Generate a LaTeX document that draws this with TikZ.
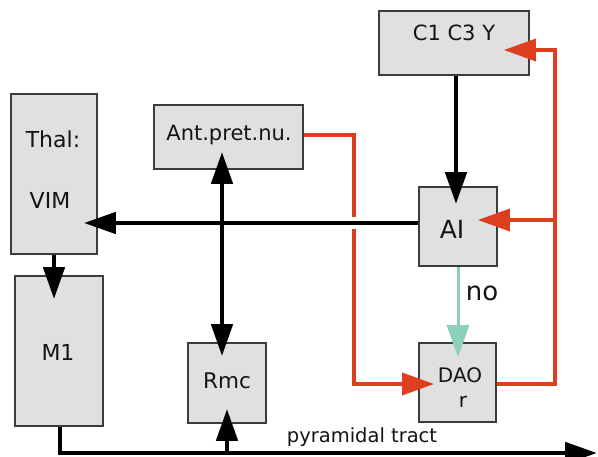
\documentclass[tikz,border=0pt]{standalone}
\usepackage{fontspec}
\setmainfont{DejaVu Sans}
\usetikzlibrary{arrows.meta,calc}
\definecolor{boxfill}{RGB}{224,224,224}
\definecolor{boxline}{RGB}{60,60,60}
\definecolor{redl}{RGB}{220,62,30}
\definecolor{tealx}{RGB}{140,208,188}
\newcommand\fsz[1]{\fontsize{#1}{#1}\selectfont}
\begin{document}
\begin{tikzpicture}[x=1pt,y=-1pt,
  box/.style={draw=boxline, line width=1.8pt, fill=boxfill, inner sep=0pt},
  lbl/.style={anchor=base, text=black!92, inner sep=0pt},
  blk/.style={line width=4.8pt, -{Triangle[length=32pt,width=21pt]}},
  redarrow/.style={draw=redl, line width=3.4pt, -{Triangle[length=32pt,width=22pt]}},
  tealarrow/.style={draw=tealx, line width=3pt, -{Triangle[length=32pt,width=22pt]}}]
\useasboundingbox (0,0) rectangle (598,456);
\fill[white] (0,0) rectangle (598,456);

% boxes
\node[box, minimum width=150pt, minimum height=64pt] (C) at (454,43) {};
\node[box, minimum width=149pt, minimum height=64pt] (Ant) at (228.5,137) {};
\node[box, minimum width=86pt, minimum height=160pt] (Thal) at (54,174) {};
\node[box, minimum width=78pt, minimum height=79pt] (AI) at (458,226.5) {};
\node[box, minimum width=77pt, minimum height=79pt] (DAO) at (457.5,382.5) {};
\node[box, minimum width=88pt, minimum height=150pt] (M1) at (59,351) {};
\node[box, minimum width=78pt, minimum height=80pt] (Rmc) at (227,383) {};

% labels
\node[lbl, font=\fsz{21}] (Ct) at (454,40) {C1 C3 Y};
\node[lbl, font=\fsz{21}] (Antt) at (229,140) {Ant.pret.nu.};
\node[lbl, font=\fsz{22}] (Thalt) at (53,147) {Thal:};
\node[lbl, font=\fsz{22}] (VIMt) at (50,208) {VIM};
\node[lbl, font=\fsz{25}] (AIt) at (452,238) {AI};
\node[lbl, font=\fsz{20}] (DAOt) at (460,382) {DAO};
\node[lbl, font=\fsz{20}] (rt) at (463,407) {r};
\node[lbl, font=\fsz{22}] (M1t) at (58,360) {M1};
\node[lbl, font=\fsz{21.5}] (Rmct) at (227,388) {Rmc};
\node[lbl, font=\fsz{26}] (not) at (482,300) {no};
\node[lbl, font=\fsz{19.5}] (pyt) at (362,442) {pyramidal tract};

% red connectors
\coordinate (rturn) at ($(Ant.east)+(50,-2)$);
\draw[redarrow, shorten >=-16pt] ([yshift=2pt]Ant.east) -- (rturn) |- ([yshift=-1.5pt]DAO.west);
\coordinate (rv) at ($(DAO.east)+(58,1.5)$);
\draw[redarrow, shorten >=-26pt] ([yshift=-1.5pt]DAO.east) -- (rv) |- ([yshift=-7pt]C.east);
\coordinate (aiin) at ([yshift=6.5pt]AI.east);
\draw[redarrow, shorten >=-20pt] (rv |- aiin) -- (aiin);

% teal
\draw[tealarrow, shorten >=-15pt] (AI.south) -- (AI.south |- DAO.north);

% gap in red at crossing
\coordinate (bstart) at ([yshift=3.5pt]AI.west);
\fill[white] ($(rturn |- bstart)+(-3,-6)$) rectangle ($(rturn |- bstart)+(3,6)$);

% black connectors
\draw[blk, shorten >=-18pt] ([xshift=2pt]C.south) -- ([xshift=2pt]C.south |- AI.north);
\draw[blk, shorten >=-14pt] (bstart) -- (Thal.east |- bstart);
\coordinate (antx) at ([xshift=-6.5pt]Ant.south);
\draw[blk, shorten >=-18pt, shorten <=-14pt, {Triangle[length=32pt,width=21pt]}-{Triangle[length=32pt,width=21pt]}] (antx |- Rmc.north) -- (antx);
\draw[blk, shorten >=-24pt] (Thal.south) -- (Thal.south |- M1.north);
\coordinate (py) at (597,453);
\draw[blk, line join=miter] ([xshift=1pt]M1.south) |- (py);
\draw[blk, shorten >=-15pt] (Rmc.south |- py) -- (Rmc.south);
\end{tikzpicture}
\end{document}
